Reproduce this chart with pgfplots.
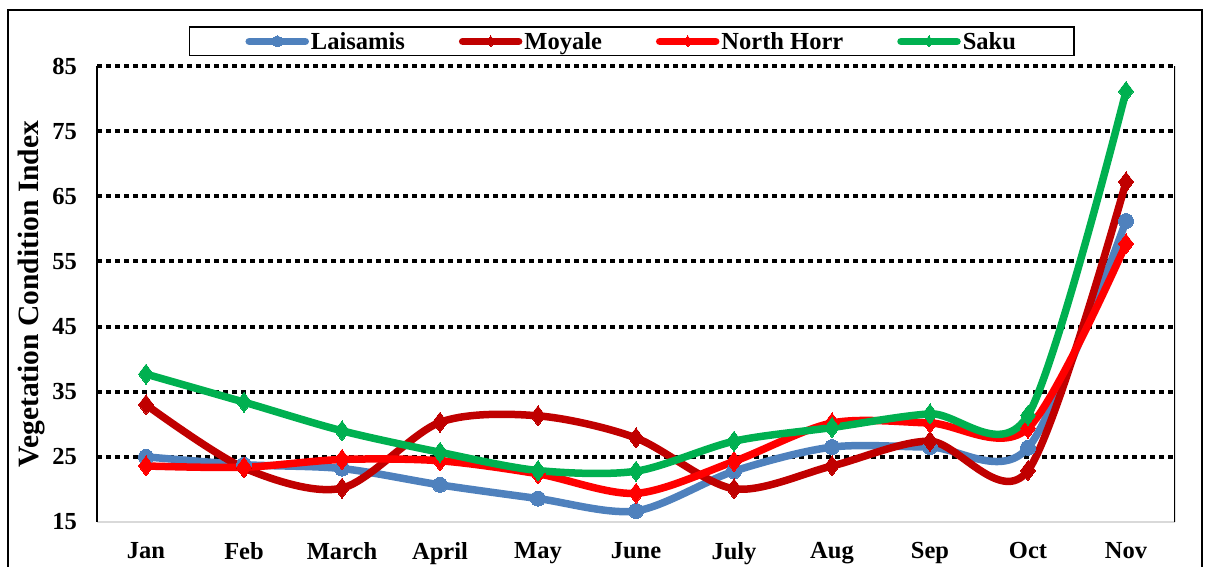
\documentclass[border=0pt]{standalone}
\usepackage{pgfplots}
\usepackage{pgfplotstable}
\pgfplotsset{compat=1.18}
\usepackage{fontspec}
\setmainfont{Liberation Serif}
\definecolor{cL}{RGB}{79,129,189}
\definecolor{cM}{RGB}{192,0,0}
\definecolor{cN}{RGB}{255,0,0}
\definecolor{cS}{RGB}{0,176,80}
\pgfplotstableread{
m L M N S
0 25.0 33.0 23.6 37.7
1 23.8 23.3 23.4 33.4
2 23.2 20.2 24.6 29.0
3 20.7 30.3 24.4 25.7
4 18.6 31.3 22.4 22.9
5 16.7 27.9 19.4 22.8
6 22.8 20.1 24.3 27.4
7 26.5 23.6 30.2 29.5
8 26.5 27.4 30.2 31.6
9 26.4 22.9 29.4 31.4
10 61.2 67.2 57.7 81.1
}\data
\begin{document}
\begin{tikzpicture}[x=1pt,y=1pt]
\useasboundingbox (0,0) rectangle (1205,567);
\begin{axis}[
  at={(97pt,45pt)}, anchor=south west,
  scale only axis, width=1078pt, height=456pt,
  xmin=-0.5, xmax=10.5, ymin=15, ymax=85,
  axis lines*=left,
  x axis line style={draw=black!15, line width=2pt},
  y axis line style={draw=black, line width=1.5pt},
  xtick={0,...,10},
  xticklabels={Jan,Feb,March,April,May,June,July,Aug,Sep,Oct,Nov},
  ytick={25,35,...,85},
  extra y ticks={15},
  extra y tick style={ymajorgrids=false},
  major tick length=0pt,
  /pgf/number format/assume math mode=true,
  ticklabel style={font=\fontsize{24.5}{28}\selectfont\bfseries},
  yticklabel style={inner sep=0pt, anchor=east, xshift=-20pt},
  xticklabel style={inner sep=0pt, anchor=north, yshift=-20pt},
  ymajorgrids,
  grid style={black, line width=4pt, dash pattern=on 4.5pt off 4.5pt},
  ylabel={Vegetation Condition Index},
  every axis y label/.style={at={(axis description cs:-0.0603,0.5)}, rotate=90, anchor=center, font=\fontsize{29.5}{33}\selectfont\bfseries},
  legend columns=4,
  legend style={at={(0.496,1.054)}, anchor=center, draw=black, line width=1.5pt,
    inner xsep=56pt, inner ysep=3pt,
    font=\fontsize{24.5}{28}\selectfont\bfseries,
    nodes={inner sep=2pt},
    /tikz/every even column/.append style={column sep=52pt}},
  legend image code/.code={
    \draw[#1, mark=none] (0pt,0pt) -- (56pt,0pt);
    \draw[#1, mark size=5.5pt] plot coordinates {(28pt,0pt)};
  },
  every axis plot/.append style={line width=7.5pt, line cap=round, smooth, tension=0.5},
]
\draw[black, line width=1.5pt] (rel axis cs:1,0) -- (rel axis cs:1,1);
\addplot[cL, mark=*, mark size=7.5pt, mark options={line width=0pt}] table[x=m,y=L]{\data};
\addlegendentry{Laisamis}
\addplot[cM, mark=diamond*, mark size=10pt, mark options={line width=0pt}] table[x=m,y=M]{\data};
\addlegendentry{Moyale}
\addplot[cN, mark=diamond*, mark size=10pt, mark options={line width=0pt}] table[x=m,y=N]{\data};
\addlegendentry{North Horr}
\addplot[cS, mark=diamond*, mark size=10pt, mark options={line width=0pt}] table[x=m,y=S]{\data};
\addlegendentry{Saku}
\end{axis}
\begin{scope}
\clip (0,0) rectangle (1205,567);
\draw[black, line width=2.5pt] (8,-20) rectangle (1202,557);
\end{scope}
\end{tikzpicture}
\end{document}
